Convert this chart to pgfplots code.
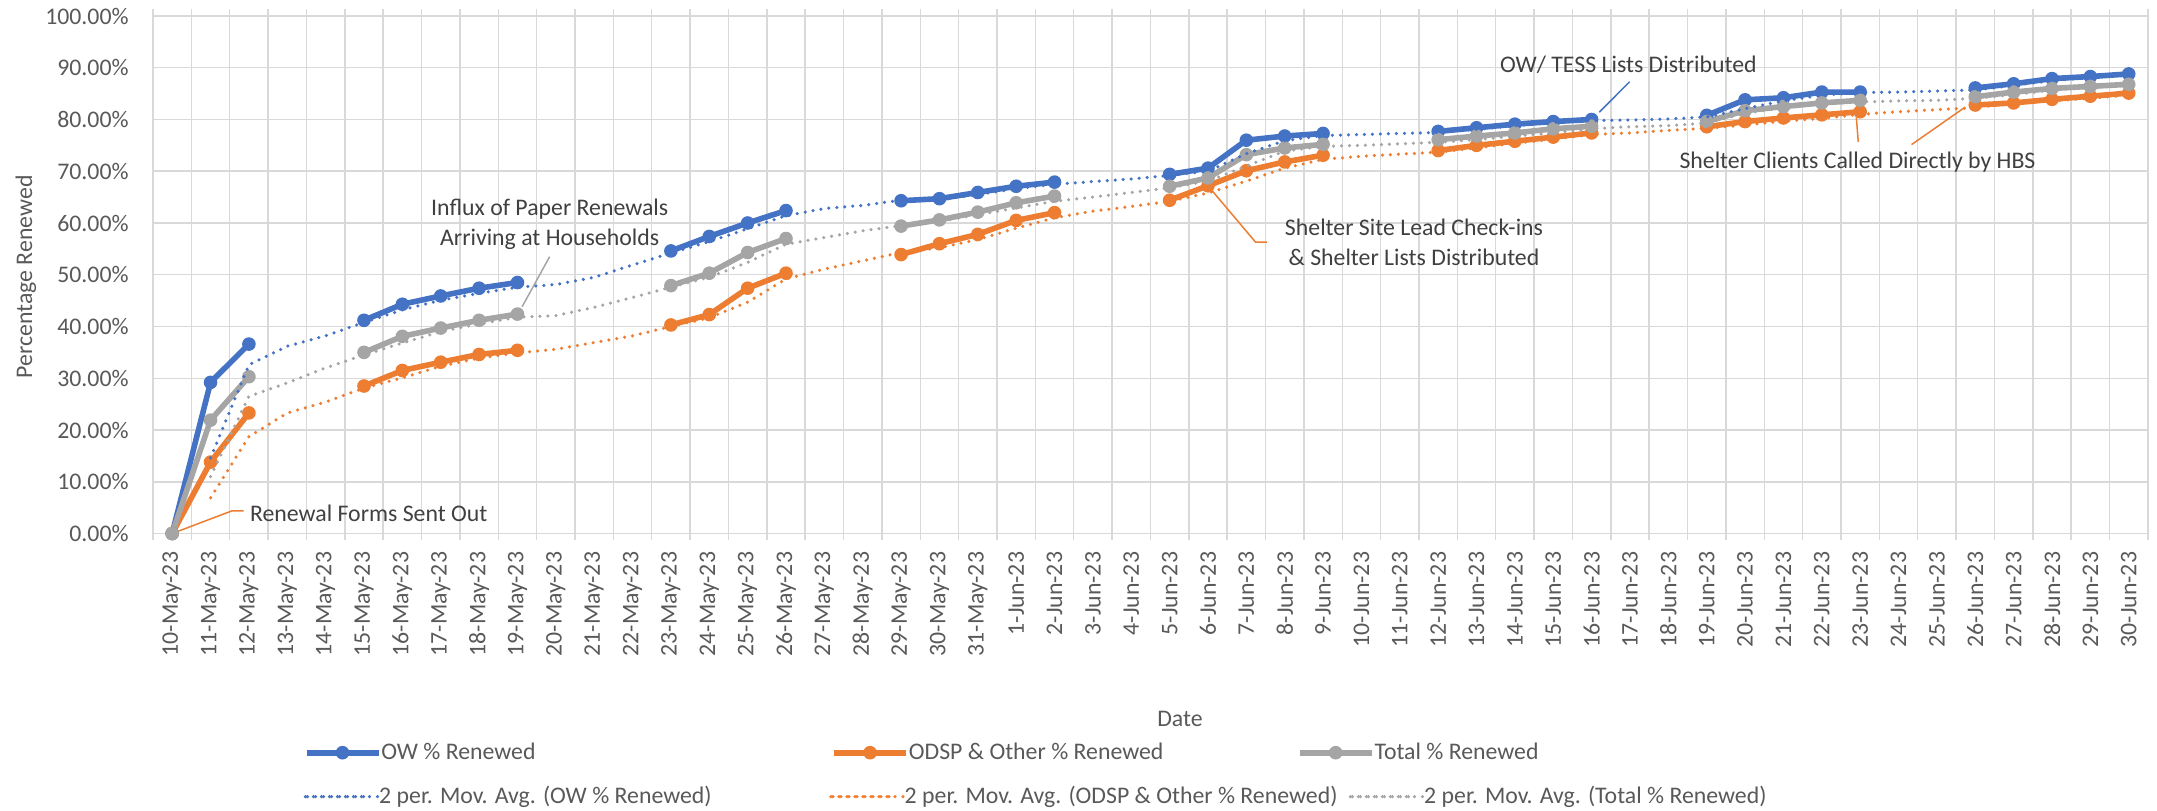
\documentclass[border=0pt]{standalone}
\usepackage{fontspec}
\setmainfont{Carlito}
\usepackage{pgfplots}
\pgfplotsset{compat=1.18}
\usepackage{pgfplotstable}

\definecolor{owblue}{HTML}{4472C4}
\definecolor{odorange}{HTML}{ED7D31}
\definecolor{totgray}{HTML}{A5A5A5}
\definecolor{gridgray}{HTML}{D9D9D9}
\definecolor{labgray}{HTML}{595959}
\definecolor{anngray}{HTML}{404040}

\newcommand\cf{\fontsize{11.9bp}{15bp}\selectfont}

\pgfplotstableread{
i ow odsp tot
0 0 0 0
1 29.2 13.8 21.9
2 36.6 23.3 30.3
3 nan nan nan
4 nan nan nan
5 41.2 28.5 35.0
6 44.3 31.5 38.1
7 45.9 33.1 39.7
8 47.4 34.6 41.2
9 48.5 35.4 42.4
10 nan nan nan
11 nan nan nan
12 nan nan nan
13 54.6 40.3 47.9
14 57.4 42.3 50.3
15 60.0 47.4 54.3
16 62.4 50.3 57.0
17 nan nan nan
18 nan nan nan
19 64.3 53.9 59.4
20 64.7 56.0 60.6
21 65.9 57.8 62.1
22 67.1 60.5 63.9
23 67.9 62.0 65.2
24 nan nan nan
25 nan nan nan
26 69.4 64.4 67.1
27 70.6 67.2 68.7
28 76.0 70.1 73.2
29 76.8 71.8 74.5
30 77.3 73.1 75.2
31 nan nan nan
32 nan nan nan
33 77.7 74.0 76.1
34 78.4 75.0 76.8
35 79.1 75.8 77.4
36 79.6 76.6 78.2
37 80.0 77.4 78.7
38 nan nan nan
39 nan nan nan
40 80.8 78.6 79.6
41 83.8 79.6 81.7
42 84.2 80.3 82.5
43 85.3 80.9 83.2
44 85.3 81.5 83.7
45 nan nan nan
46 nan nan nan
47 86.1 82.8 84.4
48 86.9 83.2 85.3
49 87.9 83.9 86.0
50 88.3 84.5 86.4
51 88.8 85.1 86.8
}\actual

\pgfplotstableread{
i ow odsp tot
1 14.6 6.9 11.0
2 32.6 18.7 26.5
3 36.2 23.3 29.1
4 38.2 25.4 32.0
5 40.8 28.1 34.5
6 43.2 30.1 36.8
7 45.1 32.3 39.0
8 46.4 33.9 40.5
9 47.6 34.9 41.8
10 48.1 35.6 42.1
11 49.5 36.9 43.7
12 51.9 38.2 45.6
13 54.2 40.0 47.6
14 56.4 41.7 49.5
15 58.9 44.7 52.4
16 61.4 49.2 55.9
17 62.8 51.1 57.2
18 63.4 52.7 58.5
19 64.4 54.3 59.5
20 64.5 55.2 60.3
21 65.5 56.8 61.6
22 66.6 59.0 62.9
23 67.5 61.0 64.2
24 68.0 62.3 65.0
25 68.5 63.2 65.9
26 69.2 64.2 66.8
27 70.0 65.8 68.1
28 73.4 68.1 71.0
29 75.9 70.6 73.9
30 76.9 72.3 74.8
31 77.1 72.9 75.0
32 77.3 73.3 75.3
33 77.5 73.7 75.6
34 78.1 74.5 76.1
35 78.8 75.4 76.8
36 79.4 76.2 77.4
37 79.8 77.1 78.2
38 79.9 77.4 78.6
39 80.1 77.9 78.8
40 80.5 78.3 79.3
41 82.1 78.9 81.2
42 83.6 79.7 82.3
43 84.7 80.2 83.0
44 85.2 81.0 83.4
45 85.3 81.5 83.6
46 85.5 81.9 83.7
47 85.7 82.3 84.1
48 86.6 83.1 84.8
49 87.5 83.6 85.7
50 88.1 84.1 86.2
51 88.6 84.7 86.6
}\mavg

\pgfplotsset{
  base/.style={
    width=997.5bp, height=258.75bp, scale only axis,
    at={(0,0)}, anchor=south west,
    xmin=-0.5, xmax=51.5, ymin=0, ymax=100,
    clip=false,
    legend columns=3,
    legend cell align=left,
    legend style={draw=none, fill=none, inner sep=0pt, outer sep=0pt, anchor=west,
      nodes={inner sep=0pt, font=\cf, text=labgray},
      every odd column/.style={column sep=3bp},
      every even column/.style={column sep=0pt}},
  },
  lineser/.style={color=#1, line width=2.8bp, mark=*, mark size=3.0bp,
    mark options={solid, fill=#1, line width=0.8bp}},
  maser/.style={color=#1, line width=1.75bp, line cap=round, dash pattern=on 0bp off 4.0bp},
}

\begin{document}
\begin{tikzpicture}
\path[use as bounding box] (-76.5bp,-138.75bp) rectangle (1002bp,266.75bp);
\begin{axis}[base,
  xtick={0,...,51},
  xticklabels={10-May-23,11-May-23,12-May-23,13-May-23,14-May-23,15-May-23,16-May-23,17-May-23,18-May-23,19-May-23,20-May-23,21-May-23,22-May-23,23-May-23,24-May-23,25-May-23,26-May-23,27-May-23,28-May-23,29-May-23,30-May-23,31-May-23,1-Jun-23,2-Jun-23,3-Jun-23,4-Jun-23,5-Jun-23,6-Jun-23,7-Jun-23,8-Jun-23,9-Jun-23,10-Jun-23,11-Jun-23,12-Jun-23,13-Jun-23,14-Jun-23,15-Jun-23,16-Jun-23,17-Jun-23,18-Jun-23,19-Jun-23,20-Jun-23,21-Jun-23,22-Jun-23,23-Jun-23,24-Jun-23,25-Jun-23,26-Jun-23,27-Jun-23,28-Jun-23,29-Jun-23,30-Jun-23},
  minor xtick={-0.5,0.5,...,51.5},
  ytick={0,10,...,100},
  yticklabels={0.00\%,10.00\%,20.00\%,30.00\%,40.00\%,50.00\%,60.00\%,70.00\%,80.00\%,90.00\%,100.00\%},
  major tick length=0pt, minor tick length=3.3bp, tick align=outside,
  xminorgrids=true, ymajorgrids=true, xmajorgrids=false,
  grid style={gridgray, line width=0.75bp},
  minor grid style={gridgray, line width=0.75bp},
  minor tick style={gridgray, line width=0.75bp},
  axis line style={gridgray, line width=0.75bp},
  xticklabel style={rotate=90, anchor=east, inner sep=0pt, font=\cf, text=labgray},
  xticklabel shift=9bp,
  yticklabel style={anchor=east, inner sep=0pt, font=\cf, text=labgray},
  yticklabel shift=12bp,
  xlabel={Date}, ylabel={Percentage Renewed},
  xlabel style={at={(axis description cs:0.5148,-0.3585)}, anchor=center, font=\cf, text=labgray},
  ylabel style={at={(axis description cs:-0.0637,0.4957)}, anchor=center, font=\cf, text=labgray},
  unbounded coords=jump,
  legend style={at={(axis description cs:0.07554,-0.42357)}},
  legend image code/.code={\draw[mark repeat=2,mark phase=2,#1] plot coordinates {(0bp,0bp) (18bp,0bp) (36bp,0bp)};},
]
\addplot[lineser=owblue] table[x=i, y=ow] {\actual};
\addlegendentry{\makebox[225bp][l]{OW \% Renewed}}
\addplot[lineser=odorange] table[x=i, y=odsp] {\actual};
\addlegendentry{\makebox[194bp][l]{ODSP \& Other \% Renewed}}
\addplot[lineser=totgray] table[x=i, y=tot] {\actual};
\addlegendentry{Total \% Renewed}

% annotations
\draw[odorange, line width=0.75bp] (axis cs:0,0) -- (axis cs:1.55,4.35) -- (axis cs:1.86,4.35);
\node[anchor=west, font=\cf, text=anngray, inner sep=0pt] at (axis cs:2.02,3.96) {Renewal Forms Sent Out};

\draw[totgray, line width=0.75bp] (axis cs:9.84,53.5) -- (axis cs:9.12,43.8);
\node[align=center, font=\cf, text=anngray, inner sep=0pt] at (axis cs:9.84,59.8) {Influx of Paper Renewals\\Arriving at Households};

\draw[odorange, line width=0.75bp] (axis cs:27.1,66.3) -- (axis cs:28.24,56.3) -- (axis cs:28.54,56.3);
\node[align=center, font=\cf, text=anngray, inner sep=0pt] at (axis cs:32.37,56.2) {Shelter Site Lead Check-ins\\\& Shelter Lists Distributed};

\draw[owblue, line width=0.75bp] (axis cs:37.99,87.3) -- (axis cs:37.2,81.4);
\node[font=\cf, text=anngray, inner sep=0pt] at (axis cs:37.96,90.6) {OW/ TESS Lists Distributed};

\draw[odorange, line width=0.75bp] (axis cs:43.9,80.4) -- (axis cs:43.95,75.7);
\draw[odorange, line width=0.75bp] (axis cs:46.7,82.2) -- (axis cs:45.34,75.15);
\node[font=\cf, text=anngray, inner sep=0pt] at (axis cs:43.93,71.8) {Shelter Clients Called Directly by HBS};
\end{axis}

\begin{axis}[base, hide axis,
  legend style={at={(axis description cs:0.07554,-0.5086)}},
  legend image code/.code={\path (0bp,0bp) -- (36bp,0bp); \draw[#1] (1bp,0bp) -- (31bp,0bp);},
]
\addplot[maser=owblue] table[x=i, y=ow] {\mavg};
\addlegendentry{\makebox[225bp][l]{2 per. Mov. Avg. (OW \% Renewed)}}
\addplot[maser=odorange] table[x=i, y=odsp] {\mavg};
\addlegendentry{\makebox[222bp][l]{2 per. Mov. Avg. (ODSP \& Other \% Renewed)}}
\addplot[maser=totgray] table[x=i, y=tot] {\mavg};
\addlegendentry{2 per. Mov. Avg. (Total \% Renewed)}
\end{axis}
\end{tikzpicture}
\end{document}
